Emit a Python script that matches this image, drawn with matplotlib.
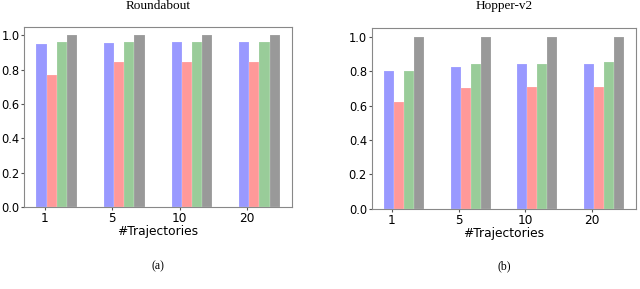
import matplotlib.pyplot as plt
import numpy as np

# data
traj_labels = ["1", "5", "10", "20"]
titles = ["Roundabout", "Hopper-v2"]
captions = ["(a)", "(b)"]

round_blue = [0.951, 0.957, 0.961, 0.964]
round_red = [0.771, 0.845, 0.845, 0.845]
round_green = [0.964, 0.964, 0.964, 0.964]
round_gray = [1.0, 1.0, 1.0, 1.0]

hop_blue = [0.803, 0.823, 0.844, 0.844]
hop_red = [0.622, 0.704, 0.710, 0.710]
hop_green = [0.802, 0.844, 0.844, 0.853]
hop_gray = [1.0, 1.0, 1.0, 1.0]

series_colors = ["b", "r", "g", "k"]

fig = plt.figure(figsize=(6.4, 2.89), dpi=100)
axes = [fig.add_axes([0.038, 0.284, 0.418, 0.623]),
        fig.add_axes([0.581, 0.277, 0.4125, 0.626])]

datasets = [[round_blue, round_red, round_green, round_gray],
            [hop_blue, hop_red, hop_green, hop_gray]]

x = np.arange(len(traj_labels))
w = 0.15
for ax, data, title, cap in zip(axes, datasets, titles, captions):
    for k, (vals, c) in enumerate(zip(data, series_colors)):
        ax.bar(x + k * w, vals, w, color=c, alpha=0.4, edgecolor="white", linewidth=0.3)
    ax.set_xticks(x + 0.045)
    ax.set_xticklabels(traj_labels, fontsize=8.7)
    ax.set_yticks([0.0, 0.2, 0.4, 0.6, 0.8, 1.0])
    ax.tick_params(axis="y", labelsize=8.3, length=2.5, pad=1, color="#555555")
    ax.tick_params(axis="x", length=2.5, pad=1, color="#555555")
    ax.set_xlabel("#Trajectories", fontsize=8.8, labelpad=0)
    for s in ax.spines.values():
        s.set_color("#888888")
        s.set_linewidth(0.8)
    pos = ax.get_position()
    cx = pos.x0 + pos.width / 2
    fig.text(cx, 0.978, title, ha="center", va="center", family="Liberation Serif", fontsize=9.5)
    fig.text(cx, 0.08, cap, ha="center", va="center", family="Liberation Serif", fontsize=8.5)

fig.savefig("out.png", dpi=100)
